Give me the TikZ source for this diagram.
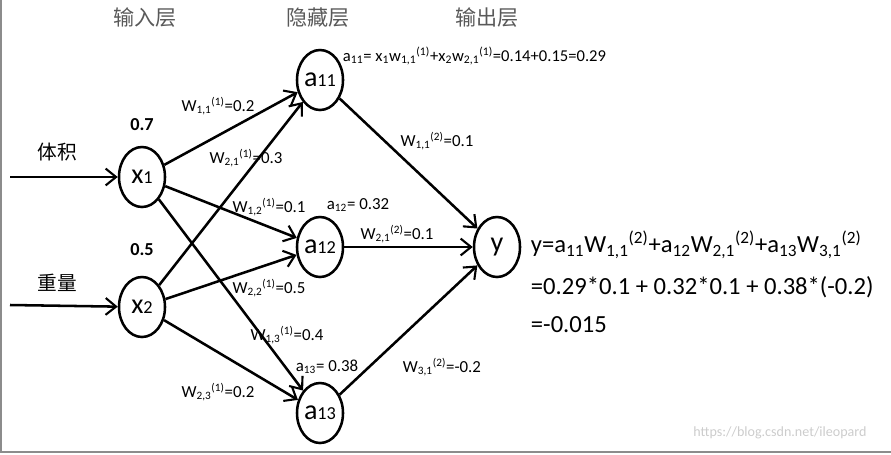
\documentclass[tikz,border=0pt]{standalone}
\usepackage{fontspec}
\setmainfont{Carlito}
\newfontfamily\cjk{Noto Sans CJK SC}
\usetikzlibrary{shapes.geometric,arrows.meta}

% Gewicht und Neuron
\newcommand{\wlab}[3]{W\textsubscript{#1}\textsuperscript{(#2)}=#3}
\newcommand{\nlab}[2]{\fontsize{20}{20}\selectfont #1\fontsize{13}{13}\selectfont #2}

\begin{document}
\begin{tikzpicture}[x=0.025cm,y=-0.025cm,
    neuron/.style={draw,ellipse,line width=1.8pt,minimum width=1.15cm,minimum height=1.5cm,inner sep=0pt},
    conn/.style={line width=1.8pt,-{Straight Barb[length=2.6mm,width=4.2mm,line width=1.5pt]}},
    wtext/.style={font=\fontsize{12}{14}\selectfont},
    layer/.style={font=\cjk\fontsize{15}{18}\selectfont,text=black!65}]
    \useasboundingbox (0,0) rectangle (891,454);
    \draw[black!45,line width=1.2pt] (1,0) -- (1,452) -- (891,452);

    % Schichten
    \node[layer] (tin)  at (145,18) {输入层};
    \node[layer] (thid) at (318,18) {隐藏层};
    \node[layer] (tout) at (487,18) {输出层};

    % Neuronen
    \node[neuron] (x1) at (142,177) {\nlab{x}{1}};
    \node[neuron] (x2) at (142,307) {\nlab{x}{2}};
    \node[neuron] (a11) at (320,80) {\nlab{a}{11}};
    \node[neuron] (a12) at (320,247) {\nlab{a}{12}};
    \node[neuron] (a13) at (320,413) {\nlab{a}{13}};
    \node[neuron] (y) at (497,247) {\nlab{y}{}};

    % Eingaben
    \coordinate (in1) at (10,177);
    \coordinate (in2) at (10,305);
    \draw[conn] (in1) -- (x1);
    \draw[conn] (in2) -- (x2);
    \node[font=\cjk\fontsize{14}{16}\selectfont] (l1) at (57,152) {体积};
    \node[font=\cjk\fontsize{14}{16}\selectfont] (l2) at (57,283) {重量};
    \node[font=\bfseries\fontsize{13}{15}\selectfont] (v1) at (142,125) {0.7};
    \node[font=\bfseries\fontsize{13}{15}\selectfont] (v2) at (142,250) {0.5};

    % Verbindungen
    \foreach \i in {1,2}
        \foreach \j in {11,12,13}
            \draw[conn] (x\i) -- (a\j);
    \foreach \j in {11,12,13}
        \draw[conn] (a\j) -- (y);

    % Gewichte
    \node[wtext] (w111) at (218,106) {\wlab{1,1}{1}{0.2}};
    \node[wtext] (w211) at (246,158) {\wlab{2,1}{1}{0.3}};
    \node[wtext] (w121) at (269,207) {\wlab{1,2}{1}{0.1}};
    \node[wtext] (w221) at (269,288) {\wlab{2,2}{1}{0.5}};
    \node[wtext] (w131) at (287,335) {\wlab{1,3}{1}{0.4}};
    \node[wtext] (w231) at (218,392) {\wlab{2,3}{1}{0.2}};
    \node[wtext] (w112) at (437,141) {\wlab{1,1}{2}{0.1}};
    \node[wtext] (w212) at (397,234) {\wlab{2,1}{2}{0.1}};
    \node[wtext] (w312) at (442,367) {\wlab{3,1}{2}{-0.2}};

    % Werte
    \node[font=\fontsize{11.8}{13}\selectfont,anchor=west] (f11) at (338,56)
        {a\textsubscript{11}= x\textsubscript{1}w\textsubscript{1,1}\textsuperscript{(1)}+x\textsubscript{2}w\textsubscript{2,1}\textsuperscript{(1)}=0.14+0.15=0.29};
    \node[wtext] (f12) at (358,205) {a\textsubscript{12}= 0.32};
    \node[wtext] (f13) at (327,367) {a\textsubscript{13}= 0.38};

    % Ausgabe
    \node[font=\fontsize{17.5}{20}\selectfont,anchor=west] (fy1) at (526,245)
        {y=a\textsubscript{11}W\textsubscript{1,1}\textsuperscript{(2)}+a\textsubscript{12}W\textsubscript{2,1}\textsuperscript{(2)}+a\textsubscript{13}W\textsubscript{3,1}\textsuperscript{(2)}};
    \node[font=\fontsize{17.5}{20}\selectfont,anchor=west] (fy2) at (526,287) {=0.29*0.1 + 0.32*0.1 + 0.38*(-0.2)};
    \node[font=\fontsize{17.5}{20}\selectfont,anchor=west] (fy3) at (526,325) {=-0.015};

    \node[font=\fontsize{10}{12}\selectfont,text=black!20] (wm) at (780,433) {https://blog.csdn.net/ileopard};
\end{tikzpicture}
\end{document}
